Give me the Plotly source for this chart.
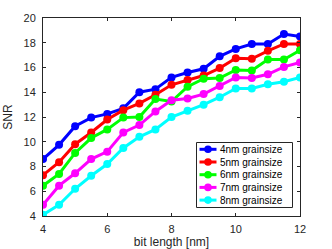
import plotly.graph_objects as go

bit_length = [4, 4.5, 5, 5.5, 6, 6.5, 7, 7.5, 8, 8.5, 9, 9.5, 10, 10.5, 11, 11.5, 12]
snr_4nm = [8.6, 9.75, 11.25, 11.95, 12.25, 12.7, 14.0, 14.25, 15.2, 15.6, 15.9, 16.9, 17.5, 17.9, 17.9, 18.7, 18.5]
snr_5nm = [7.3, 8.35, 9.8, 10.75, 11.8, 12.55, 13.1, 13.8, 14.6, 15.0, 15.35, 15.95, 16.75, 16.7, 17.35, 17.9, 17.9]
snr_6nm = [6.45, 7.4, 9.1, 10.3, 11.0, 11.95, 12.0, 13.45, 13.25, 14.45, 15.1, 15.15, 15.8, 15.75, 16.65, 16.65, 17.4]
snr_7nm = [4.9, 6.45, 7.45, 8.6, 9.2, 10.75, 11.35, 12.45, 13.35, 13.5, 13.85, 14.5, 15.2, 15.15, 15.45, 16.05, 16.4]
snr_8nm = [4.1, 4.9, 6.2, 7.25, 8.2, 9.5, 10.4, 11.0, 12.0, 12.5, 13.0, 13.6, 14.3, 14.3, 14.65, 14.85, 15.2]
series_names = ["4nm grainsize", "5nm grainsize", "6nm grainsize", "7nm grainsize", "8nm grainsize"]
series_colors = ["#0000ff", "#ff0000", "#00ff00", "#ff00ff", "#00ffff"]
x_ticks = [4, 6, 8, 10, 12]
y_ticks = [4, 6, 8, 10, 12, 14, 16, 18, 20]

W, H = 332, 249
ML, MR, MT, MB = 43, 32, 18, 33
PW, PH = W - ML - MR, H - MT - MB
FONT = "Liberation Sans, Arial, sans-serif"

def px_x(p):
    return (p - ML) / PW

def px_y(p):
    return (H - MB - p) / PH

fig = go.Figure()
for name, color, vals in zip(series_names, series_colors, [snr_4nm, snr_5nm, snr_6nm, snr_7nm, snr_8nm]):
    fig.add_trace(go.Scatter(
        x=bit_length, y=vals, name=name, mode="lines+markers",
        line=dict(color=color, width=3),
        marker=dict(color=color, size=8),
        showlegend=False,
    ))

axis_common = dict(
    showgrid=False, zeroline=False, showline=True, linecolor="#262626", linewidth=1,
    mirror="ticks", ticks="inside", ticklen=3, tickcolor="#262626", automargin=False,
    tickfont=dict(family=FONT, size=11, color="#262626"),
)

shapes = []
annotations = []
shapes.append(dict(type="rect", xref="paper", yref="paper",
                   x0=px_x(196.5), x1=px_x(292.5), y0=px_y(207.5), y1=px_y(142.5),
                   line=dict(color="#262626", width=1), fillcolor="white", layer="above"))
row_y = [149.3, 162.0, 174.7, 187.4, 200.1]
r = 3.8
for name, color, yy in zip(series_names, series_colors, row_y):
    shapes.append(dict(type="line", xref="paper", yref="paper",
                       x0=px_x(199.5), x1=px_x(216.5), y0=px_y(yy), y1=px_y(yy),
                       line=dict(color=color, width=3), layer="above"))
    shapes.append(dict(type="circle", xref="paper", yref="paper",
                       x0=px_x(208 - r), x1=px_x(208 + r), y0=px_y(yy + r), y1=px_y(yy - r),
                       line=dict(color=color, width=0), fillcolor=color, layer="above"))
    annotations.append(dict(text=name, xref="paper", yref="paper", x=px_x(217.5), y=px_y(yy),
                            xanchor="left", yanchor="middle", showarrow=False,
                            font=dict(family=FONT, size=10, color="#000000")))

fig.update_layout(
    width=W, height=H,
    margin=dict(l=ML, r=MR, t=MT, b=MB),
    paper_bgcolor="white", plot_bgcolor="white",
    font=dict(family=FONT, size=11, color="#262626"),
    xaxis=dict(range=[4, 12], tickvals=x_ticks, ticklabelstandoff=3,
               title=dict(text="bit length [nm]", standoff=2, font=dict(size=12)), **axis_common),
    yaxis=dict(range=[4, 20], tickvals=y_ticks, ticklabelstandoff=4,
               title=dict(text="SNR", standoff=8, font=dict(size=12)), **axis_common),
    shapes=shapes, annotations=annotations,
)

fig.write_html("out.html", config={"displayModeBar": False},
               post_script="document.body.style.margin='0';document.body.style.padding='0';")
